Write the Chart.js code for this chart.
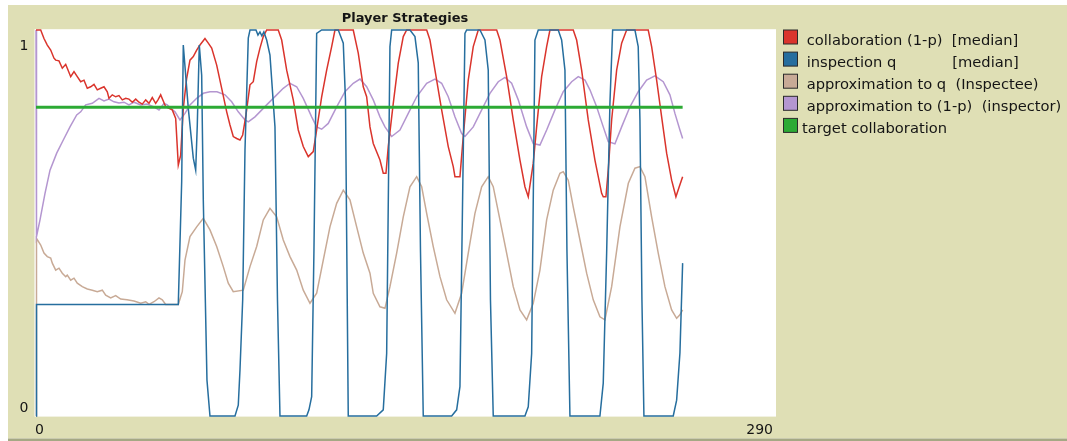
<!DOCTYPE html>
<html><head><meta charset="utf-8">
<script src="https://cdn.jsdelivr.net/npm/chart.js@4.4.1/dist/chart.umd.min.js"></script>
<style>html,body{margin:0;padding:0;background:#fff;overflow:hidden}canvas{display:block}</style>
</head><body>
<canvas id="c" width="1067" height="441"></canvas>
<script>
// ---- data (time step, value) ----
const collabT = [0,1.84,3.13,4.43,5.76,7.05,7.72,9.01,10.31,11.64,12.26,13.6,14.89,16.18,17.52,18.81,20.1,21.43,22.73,24.02,25.35,26.65,27.94,28.6,29.9,31.23,32.52,33.82,35.15,36.44,37.74,39.07,40.36,41.65,42.99,44.28,45.57,46.9,47.8,48.86,49.88,50.82,52.12,53.41,54.74,55.76,56.7,57.72,59.05,60.34,61.64,62.97,64.26,66.22,67.52,68.85,70.81,72.77,74.73,76.02,77.31,78.64,79.94,81.0,82.29,83.86,85.15,86.48,87.77,89.07,90.4,94.94,96.28,98.24,100.82,102.78,104.74,106.7,108.66,109.99,111.95,113.91,115.87,117.16,124.33,126.29,128.25,129.58,130.88,132.17,134.8,136.09,137.15,138.05,140.01,141.97,143.93,145.26,153.1,154.39,156.35,158.97,161.56,163.52,164.18,166.14,167.44,169.4,171.36,173.32,180.53,181.82,184.44,187.03,189.66,191.61,192.91,194.87,196.2,198.16,200.12,201.41,210.54,211.87,213.83,216.42,219.04,221.67,222.3,223.35,224.26,225.59,227.55,229.51,231.47,239.93,241.26,243.22,245.18,247.14,249.1,250.78,252.08,253.41];
const collabV = [1,1,0.978,0.961,0.948,0.927,0.922,0.920,0.901,0.911,0.901,0.879,0.892,0.879,0.866,0.870,0.849,0.853,0.859,0.845,0.849,0.853,0.840,0.823,0.832,0.827,0.830,0.819,0.823,0.821,0.813,0.821,0.813,0.808,0.819,0.810,0.825,0.810,0.819,0.832,0.816,0.801,0.797,0.793,0.771,0.650,0.676,0.797,0.875,0.922,0.931,0.948,0.961,0.978,0.966,0.953,0.909,0.849,0.788,0.754,0.724,0.719,0.715,0.728,0.780,0.858,0.866,0.918,0.953,0.983,1,1,0.974,0.896,0.819,0.741,0.698,0.672,0.685,0.741,0.827,0.896,0.957,1,1,0.940,0.853,0.827,0.749,0.706,0.663,0.629,0.629,0.698,0.810,0.914,0.983,1,1,0.974,0.896,0.793,0.698,0.646,0.620,0.620,0.724,0.870,0.957,1,1,0.974,0.879,0.767,0.663,0.594,0.568,0.655,0.749,0.879,0.957,1,1,0.974,0.896,0.767,0.663,0.577,0.568,0.568,0.637,0.767,0.896,0.966,1,1,0.957,0.870,0.775,0.681,0.611,0.568,0.594,0.620];

const inspectT = [0,0.2,55.76,57.09,57.72,59.68,61.64,62.58,63.21,63.99,64.93,65.56,67.0,68.18,77.98,79.27,79.94,81.0,81.9,83.19,83.86,86.21,86.99,87.77,88.5,89.3,90.4,91.69,93.65,94.63,95.61,106.07,106.97,108.03,108.93,109.99,111.95,118.46,120.42,121.28,122.37,133.5,136.09,137.42,138.71,139.38,146.55,148.51,149.8,150.67,151.76,162.89,164.85,166.14,168.1,168.77,173.98,175.94,177.23,178.1,179.19,191.61,192.91,194.24,195.53,196.83,204.66,205.99,207.29,208.07,209.25,221.0,222.3,223.63,224.92,225.98,234.72,236.0,236.68,237.46,238.24,249.73,251.06,252.35,253.41];
const inspectV = [0,0.289,0.289,0.607,0.961,0.797,0.668,0.637,0.754,0.961,0.883,0.56,0.093,0,0,0.028,0.119,0.301,0.689,0.979,1,1,0.987,0.995,0.985,0.995,0.974,0.935,0.749,0.301,0,0,0.016,0.05,0.43,0.991,1,1,0.966,0.819,0,0,0.016,0.162,0.957,1,1,0.983,0.915,0.43,0,0,0.016,0.076,0.991,1,1,0.974,0.896,0.301,0,0,0.024,0.162,0.974,1,1,0.974,0.896,0.43,0,0,0.085,0.422,0.811,1,1,0.957,0.767,0.301,0,0,0.041,0.163,0.396];

const approxQT = [0,0.2,1.84,3.13,4.43,5.76,6.39,7.72,9.01,10.31,11.64,12.26,13.6,14.89,16.18,18.14,20.1,22.06,24.02,25.98,27.31,29.27,31.23,33.19,35.66,38.4,41.03,42.99,44.28,46.24,48.2,49.49,50.82,55.76,57.33,58.39,60.34,62.97,65.56,68.18,70.81,73.39,75.35,77.31,81.23,83.86,86.48,89.07,91.69,94.32,96.9,99.53,102.16,104.74,107.37,109.99,112.58,115.2,117.83,120.42,123.04,125.67,128.25,130.88,132.17,134.8,136.76,138.71,141.34,143.93,146.55,149.18,151.14,153.1,155.68,158.31,160.93,164.18,166.81,169.4,172.02,174.65,177.23,179.19,181.82,184.44,187.03,189.66,192.28,194.87,197.49,200.12,202.7,205.33,206.62,208.58,210.54,213.17,215.79,218.38,221.0,222.96,225.59,228.84,232.13,234.72,236.68,238.64,241.26,243.85,246.47,249.1,251.06,252.35,253.41];
const approxQV = [0,0.46,0.443,0.422,0.413,0.409,0.396,0.378,0.383,0.37,0.361,0.365,0.352,0.357,0.344,0.335,0.329,0.326,0.322,0.326,0.313,0.306,0.312,0.303,0.301,0.298,0.292,0.296,0.289,0.296,0.306,0.301,0.289,0.289,0.322,0.404,0.465,0.49,0.512,0.482,0.439,0.387,0.344,0.322,0.326,0.387,0.439,0.508,0.538,0.516,0.456,0.413,0.378,0.326,0.292,0.318,0.404,0.49,0.551,0.585,0.56,0.49,0.422,0.37,0.318,0.283,0.279,0.335,0.422,0.516,0.594,0.62,0.594,0.525,0.439,0.361,0.301,0.266,0.318,0.422,0.525,0.594,0.62,0.594,0.508,0.422,0.335,0.275,0.249,0.292,0.378,0.508,0.585,0.629,0.633,0.611,0.542,0.456,0.37,0.301,0.257,0.249,0.335,0.49,0.603,0.642,0.646,0.62,0.516,0.422,0.335,0.275,0.253,0.262,0.275];

const approxPT = [0,0.2,1.57,3.53,5.49,8.11,10.7,13.32,15.95,17.52,19.47,22.06,24.69,26.65,28.6,30.56,32.52,34.48,36.44,38.4,41.03,43.5,46.24,48.2,50.16,51.45,52.78,54.47,56.43,58.39,60.34,62.97,65.56,68.18,70.92,74.06,76.68,79.27,81.9,83.19,85.82,90.4,94.32,96.9,99.53,102.16,104.74,108.03,109.99,111.95,114.54,117.83,121.08,124.33,126.96,129.58,132.17,134.8,136.76,139.38,142.63,145.89,149.18,153.1,156.35,158.97,161.56,164.18,166.81,168.1,171.36,173.98,177.9,181.15,183.78,186.4,188.99,192.28,194.87,197.49,200.12,203.37,206.62,209.92,212.5,215.13,217.08,219.71,222.3,224.26,226.88,229.51,232.76,236.01,239.3,242.55,245.81,248.43,250.39,252.35,253.41];
const approxPV = [1,0.465,0.508,0.577,0.637,0.681,0.715,0.749,0.78,0.788,0.806,0.81,0.823,0.816,0.821,0.814,0.811,0.813,0.806,0.813,0.806,0.808,0.801,0.793,0.81,0.806,0.797,0.788,0.767,0.784,0.806,0.823,0.836,0.84,0.84,0.832,0.814,0.788,0.767,0.762,0.775,0.806,0.832,0.849,0.862,0.853,0.823,0.775,0.749,0.743,0.758,0.801,0.84,0.862,0.873,0.853,0.819,0.775,0.749,0.724,0.741,0.784,0.827,0.862,0.873,0.862,0.827,0.775,0.732,0.724,0.749,0.784,0.836,0.866,0.877,0.862,0.819,0.749,0.706,0.702,0.741,0.793,0.84,0.866,0.879,0.87,0.845,0.801,0.749,0.711,0.705,0.749,0.801,0.84,0.87,0.881,0.866,0.832,0.784,0.741,0.719];

const targetT = [0,253.41];
const targetV = [0.8,0.8];

const seriesNames = [' collaboration (1-p)  [median]', ' inspection q            [median]', ' approximation to q  (Inspectee)', ' approximation to (1-p)  (inspector)', 'target collaboration'];
const seriesColors = ['rgb(218,52,44)', 'rgb(38,110,158)', 'rgb(200,170,150)', 'rgb(180,150,208)', 'rgb(44,170,52)'];
const chartTitle = 'Player Strategies';
const xTickLabels = ['0', '290'];
const yTickLabels = ['0', '1'];
const xRange = [0, 290];
const yRange = [0, 1];

function zip(t, v){ const n=Math.min(t.length,v.length); const out=[]; for(let i=0;i<n;i++) out.push({x:t[i], y:v[i]}); return out; }

const seriesT = [collabT, inspectT, approxQT, approxPT, targetT];
const seriesV = [collabV, inspectV, approxQV, approxPV, targetV];
const widths = [1.5, 1.5, 1.5, 1.5, 3];
const orders = [2, 1, 4, 3, 0];

const datasets = seriesNames.map((name, i) => ({
  label: name.trim(),
  data: zip(seriesT[i], seriesV[i]),
  borderColor: seriesColors[i],
  backgroundColor: seriesColors[i],
  borderWidth: widths[i],
  pointRadius: 0,
  tension: 0,
  fill: false,
  order: orders[i],
  clip: 4
}));

const FONT = '"DejaVu Sans", "Lucida Grande", Verdana, sans-serif';

const netlogoPlot = {
  id: 'netlogoPlot',
  beforeDraw(chart) {
    const ctx = chart.ctx, a = chart.chartArea;
    ctx.save();
    ctx.fillStyle = '#ffffff';
    ctx.fillRect(0, 0, chart.width, chart.height);
    ctx.fillStyle = 'rgb(223,223,181)';
    ctx.fillRect(8, 5, chart.width - 8, 433.5);
    ctx.fillStyle = 'rgb(165,168,132)';
    ctx.fillRect(8, 438.5, chart.width - 8, 2.5);
    ctx.fillStyle = '#ffffff';
    ctx.fillRect(a.left - 1.5, a.top - 0.8, a.right - a.left + 1.5, a.bottom - a.top + 1.4);
    ctx.restore();
  },
  afterDraw(chart) {
    const ctx = chart.ctx, a = chart.chartArea;
    const xs = chart.scales.x, ys = chart.scales.y;
    ctx.save();
    ctx.fillStyle = '#151515';
    // title
    ctx.font = 'bold 13px ' + FONT;
    ctx.textAlign = 'center';
    ctx.textBaseline = 'alphabetic';
    ctx.fillText(chartTitle, (a.left + a.right) / 2 - 1, 21.5);
    // y tick labels
    ctx.font = '14px ' + FONT;
    ctx.textAlign = 'right';
    ctx.fillText(yTickLabels[1], 28.5, ys.getPixelForValue(yRange[1]) + 20);
    ctx.fillText(yTickLabels[0], 28.5, ys.getPixelForValue(yRange[0]) - 4);
    // x tick labels
    ctx.textAlign = 'left';
    ctx.fillText(xTickLabels[0], xs.getPixelForValue(xRange[0]) - 1, a.bottom + 17.5);
    ctx.textAlign = 'right';
    ctx.fillText(xTickLabels[1], xs.getPixelForValue(xRange[1]) - 3, a.bottom + 17.5);
    // legend
    ctx.font = '14.7px ' + FONT;
    ctx.textAlign = 'left';
    const bx = 783.5, by0 = 30, step = 22.1, bs = 14;
    seriesNames.forEach((name, i) => {
      const y = by0 + i * step;
      ctx.fillStyle = seriesColors[i];
      ctx.fillRect(bx, y, bs, bs);
      ctx.strokeStyle = '#2a2a2a';
      ctx.lineWidth = 1;
      ctx.strokeRect(bx, y, bs, bs);
      ctx.fillStyle = '#151515';
      ctx.fillText(name, 802, y + 14.5);
    });
    ctx.restore();
  }
};

new Chart(document.getElementById('c'), {
  type: 'line',
  data: { datasets },
  options: {
    responsive: false,
    animation: false,
    devicePixelRatio: 1,
    layout: { padding: { left: 36, right: 291, top: 30, bottom: 25 } },
    scales: {
      x: { type: 'linear', min: xRange[0], max: xRange[1], display: false },
      y: { type: 'linear', min: yRange[0], max: yRange[1], display: false }
    },
    plugins: { legend: { display: false }, title: { display: false }, tooltip: { enabled: false } },
    elements: { point: { radius: 0 }, line: { tension: 0 } }
  },
  plugins: [netlogoPlot]
});
</script>
</body></html>
